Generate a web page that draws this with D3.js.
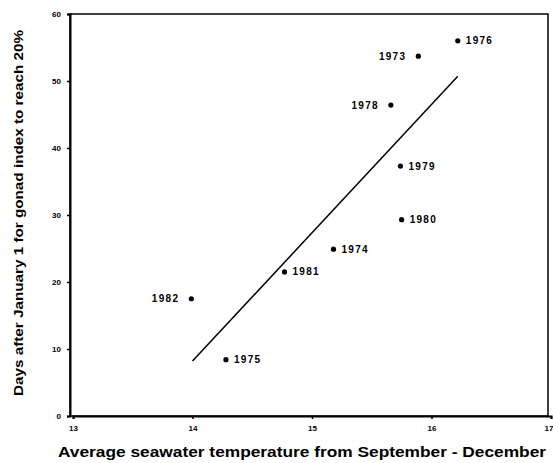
<!DOCTYPE html>
<html>
<head>
<meta charset="utf-8">
<script src="https://cdn.jsdelivr.net/npm/d3@7"></script>
<style>
  body { margin: 0; background: #fff; }
  text { font-family: "Liberation Sans", Arial, sans-serif; font-weight: bold; fill: #000; }
</style>
</head>
<body>
<div id="chart"></div>
<script>
const years = ["1982", "1975", "1981", "1974", "1980", "1979", "1978", "1973", "1976"];
const temps = [13.99, 14.28, 14.77, 15.18, 15.75, 15.74, 15.66, 15.89, 16.22];
const days = [17.5, 8.4, 21.5, 24.9, 29.3, 37.3, 46.4, 53.7, 56.0];
const labelSide = ["left", "right", "right", "right", "right", "right", "left", "left", "right"];
const fitX = [14.0, 16.22];
const fitY = [8.2, 50.7];
const xTicks = [13, 14, 15, 16, 17];
const yTicks = [0, 10, 20, 30, 40, 50, 60];

const svg = d3.select("#chart").append("svg")
    .attr("width", 553)
    .attr("height", 463);

const margin = { top: 14, right: 5, bottom: 47, left: 73 };
const width = 551 - margin.left;
const height = 416 - margin.top;

const g = svg.append("g").attr("transform", `translate(${margin.left},${margin.top})`);

const x = d3.scaleLinear().domain([13, 17]).range([0, width]);
const y = d3.scaleLinear().domain([0, 60]).range([height, 0]);

// frame
g.append("rect")
    .attr("x", -3).attr("y", 0)
    .attr("width", width).attr("height", height)
    .attr("fill", "none").attr("stroke", "#000").attr("stroke-width", 1.5);

const xAxis = g.append("g")
    .attr("transform", `translate(0,${height})`)
    .call(d3.axisBottom(x).tickValues(xTicks).tickFormat(d3.format("d")).tickSize(3).tickPadding(6));
const yAxis = g.append("g")
    .attr("transform", "translate(-3,0)")
    .call(d3.axisLeft(y).tickValues(yTicks).tickFormat(d3.format("d")).tickSize(3).tickPadding(6));

[xAxis, yAxis].forEach(a => {
    a.select(".domain").attr("stroke-width", 2);
    a.selectAll("line").attr("stroke-width", 1.5);
    a.selectAll("text").style("font-size", "8px");
});
// last x label sits at the page edge, keep it inside
xAxis.selectAll("text").filter(d => d === 17).attr("text-anchor", "end").attr("dx", 2);

// regression line
g.append("line")
    .attr("x1", x(fitX[0])).attr("y1", y(fitY[0]))
    .attr("x2", x(fitX[1])).attr("y2", y(fitY[1]))
    .attr("stroke", "#000").attr("stroke-width", 1.5);

// points
g.selectAll(".pt")
    .data(years)
    .enter().append("circle")
    .attr("class", "pt")
    .attr("cx", (d, i) => x(temps[i]))
    .attr("cy", (d, i) => y(days[i]))
    .attr("r", 2.6)
    .attr("fill", "#000");

g.selectAll(".lbl")
    .data(years)
    .enter().append("text")
    .attr("class", "lbl")
    .attr("x", (d, i) => x(temps[i]) + (labelSide[i] === "left" ? -12 : 8))
    .attr("y", (d, i) => y(days[i]) + 3.5)
    .attr("text-anchor", (d, i) => labelSide[i] === "left" ? "end" : "start")
    .style("font-size", "10px")
    .style("letter-spacing", "1.3px")
    .text(d => d);

// Axis Labels
svg.append("text")
    .attr("x", 302)
    .attr("y", 457)
    .attr("text-anchor", "middle")
    .attr("textLength", 488)
    .attr("lengthAdjust", "spacingAndGlyphs")
    .style("font-size", "14px")
    .text("Average seawater temperature from September - December");

svg.append("text")
    .attr("x", -213)
    .attr("y", 23)
    .attr("transform", "rotate(-90)")
    .attr("text-anchor", "middle")
    .attr("textLength", 366)
    .attr("lengthAdjust", "spacingAndGlyphs")
    .style("font-size", "13px")
    .text("Days after January 1 for gonad index to reach 20%");
</script>
</body>
</html>
